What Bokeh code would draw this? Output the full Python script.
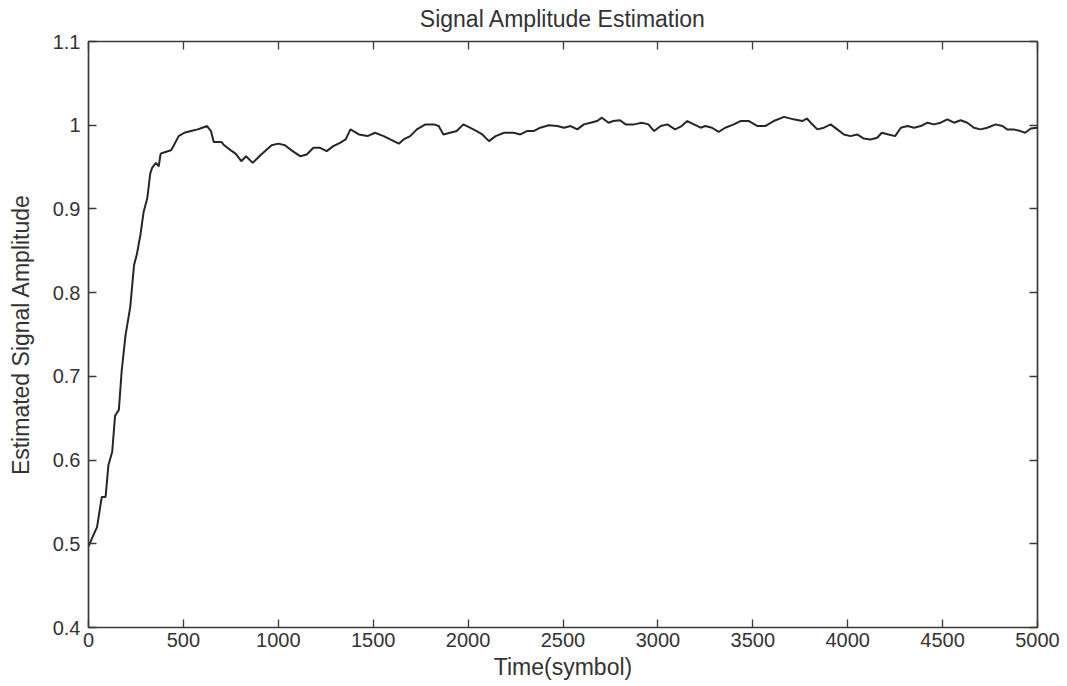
import math
from bokeh.plotting import figure
from bokeh.models import Range1d, FixedTicker, LinearAxis, CustomJSTickFormatter, CustomLabelingPolicy
from bokeh.embed import file_html
from bokeh.resources import INLINE

title_text = "Signal Amplitude Estimation"
x_label = "Time(symbol)"
y_label = "Estimated Signal Amplitude"

x_ticks = [0, 500, 1000, 1500, 2000, 2500, 3000, 3500, 4000, 4500, 5000]
y_ticks = [0.4, 0.5, 0.6, 0.7, 0.8, 0.9, 1.0, 1.1]

time = [
    0, 25, 45, 70, 90, 105, 125, 140, 160, 175,
    195, 220, 240, 255, 275, 290, 310, 325, 335, 355,
    370, 380, 405, 435, 450, 475, 505, 540, 575, 600,
    625, 645, 660, 700, 715, 750, 775, 805, 830, 865,
    900, 935, 965, 1000, 1035, 1070, 1115, 1150, 1185, 1220,
    1255, 1290, 1325, 1355, 1380, 1425, 1470, 1510, 1555, 1590,
    1635, 1660, 1695, 1730, 1775, 1820, 1845, 1870, 1905, 1940,
    1975, 2010, 2045, 2075, 2110, 2145, 2190, 2240, 2275, 2310,
    2345, 2380, 2425, 2470, 2505, 2540, 2575, 2610, 2645, 2680,
    2705, 2740, 2765, 2800, 2830, 2875, 2915, 2950, 2980, 3015,
    3050, 3090, 3125, 3155, 3190, 3225, 3250, 3285, 3320, 3355,
    3400, 3435, 3480, 3525, 3565, 3610, 3665, 3715, 3760, 3785,
    3805, 3840, 3875, 3910, 3945, 3980, 4015, 4050, 4085, 4120,
    4155, 4180, 4215, 4250, 4280, 4315, 4350, 4385, 4420, 4455,
    4490, 4525, 4560, 4595, 4630, 4665, 4700, 4735, 4780, 4815,
    4840, 4875, 4910, 4935, 4965, 5000,
]

amplitude = [
    0.497, 0.510, 0.520, 0.556, 0.556, 0.594, 0.610, 0.653, 0.660, 0.707,
    0.749, 0.783, 0.833, 0.846, 0.871, 0.896, 0.913, 0.942, 0.949, 0.955,
    0.951, 0.966, 0.968, 0.970, 0.976, 0.987, 0.991, 0.993, 0.995, 0.997,
    0.999, 0.993, 0.980, 0.980, 0.976, 0.970, 0.966, 0.957, 0.963, 0.955,
    0.963, 0.970, 0.976, 0.978, 0.976, 0.970, 0.963, 0.965, 0.973, 0.973,
    0.969, 0.975, 0.979, 0.983, 0.995, 0.989, 0.987, 0.991, 0.987, 0.983,
    0.978, 0.983, 0.987, 0.995, 1.001, 1.001, 0.999, 0.989, 0.991, 0.993,
    1.001, 0.997, 0.993, 0.989, 0.981, 0.987, 0.991, 0.991, 0.989, 0.993,
    0.993, 0.997, 1.000, 0.999, 0.997, 0.999, 0.995, 1.001, 1.003, 1.005,
    1.009, 1.003, 1.005, 1.006, 1.001, 1.001, 1.003, 1.001, 0.993, 0.999,
    1.001, 0.995, 0.999, 1.005, 1.001, 0.997, 0.999, 0.997, 0.992, 0.997,
    1.001, 1.005, 1.005, 0.999, 0.999, 1.005, 1.010, 1.007, 1.005, 1.008,
    1.003, 0.995, 0.997, 1.001, 0.995, 0.989, 0.987, 0.989, 0.984, 0.983,
    0.985, 0.991, 0.989, 0.987, 0.997, 0.999, 0.997, 0.999, 1.003, 1.001,
    1.003, 1.007, 1.003, 1.006, 1.003, 0.997, 0.995, 0.997, 1.001, 0.999,
    0.995, 0.995, 0.993, 0.991, 0.996, 0.997,
]

FONT = "Liberation Sans"
TEXT_COLOR = "#333333"
AXIS_COLOR = "#3a3a3a"

p = figure(
    width=1067, height=686,
    x_range=Range1d(0, 5000), y_range=Range1d(0.4, 1.1),
    output_backend="svg", toolbar_location=None,
    min_border_left=88, min_border_right=30, min_border_top=41, min_border_bottom=59,
    background_fill_color="white", border_fill_color="white",
)
p.outline_line_color = AXIS_COLOR
p.outline_line_width = 1.7
p.outline_line_alpha = 1.0
p.grid.visible = False

p.line(time, amplitude, line_color="#262626", line_width=2)

hide_all = CustomLabelingPolicy(code="for (const i of indices) indices.unset(i); return indices;")


def style_axis(ax, show_labels=True):
    ax.axis_line_color = None
    ax.major_tick_in = 8
    ax.major_tick_out = 0
    ax.major_tick_line_color = AXIS_COLOR
    ax.major_tick_line_width = 1.3
    ax.minor_tick_line_color = None
    ax.major_label_text_font = FONT
    ax.major_label_text_color = TEXT_COLOR
    ax.axis_label_text_font = FONT
    ax.axis_label_text_font_style = "normal"
    ax.axis_label_text_color = TEXT_COLOR
    ax.axis_label_text_font_size = "23px"
    if show_labels:
        ax.major_label_text_font_size = "20px"
    else:
        ax.major_label_text_font_size = "1px"
        ax.major_label_standoff = 0
        ax.major_label_policy = hide_all


xa = p.xaxis[0]
xa.ticker = FixedTicker(ticks=x_ticks)
style_axis(xa)
xa.major_label_standoff = 5
xa.axis_label = x_label
xa.axis_label_standoff = 4

ya = p.yaxis[0]
ya.ticker = FixedTicker(ticks=y_ticks)
ya.formatter = CustomJSTickFormatter(code="return String(Math.round(tick*10)/10);")
style_axis(ya)
ya.major_label_standoff = 8
ya.axis_label = y_label
ya.axis_label_standoff = 16

top = LinearAxis(ticker=FixedTicker(ticks=x_ticks))
style_axis(top, show_labels=False)
top.axis_label = title_text
top.axis_label_standoff = 6
p.add_layout(top, "above")

right = LinearAxis(ticker=FixedTicker(ticks=y_ticks))
style_axis(right, show_labels=False)
p.add_layout(right, "right")

open("out.html", "w").write(file_html(p, INLINE))
